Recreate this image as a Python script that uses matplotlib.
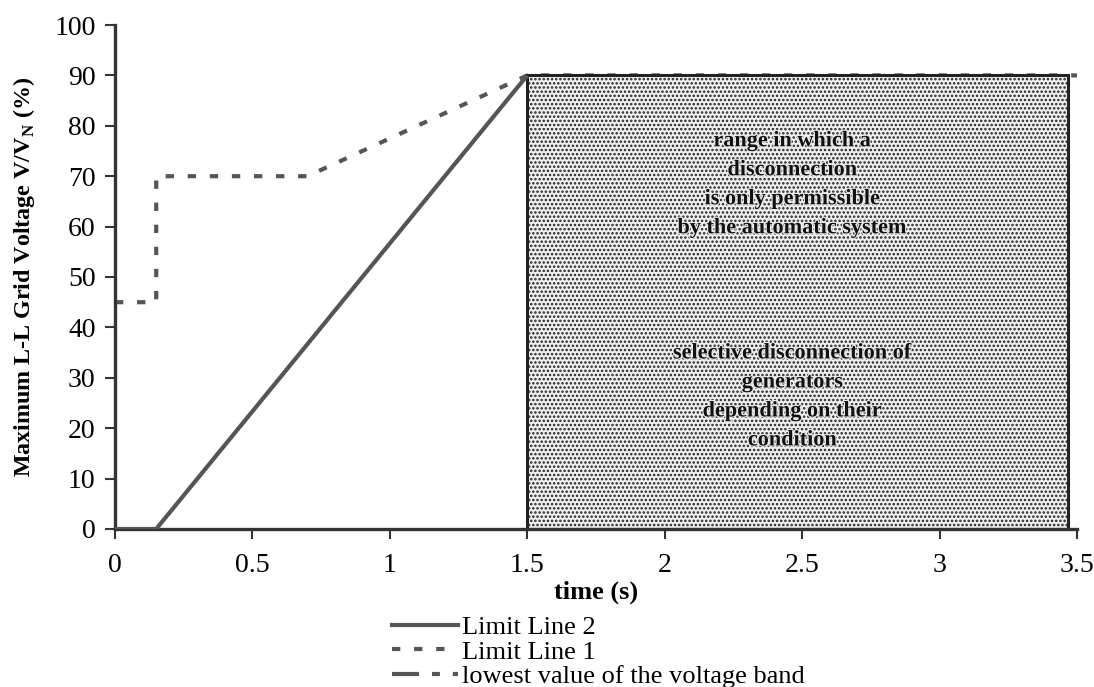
import matplotlib
matplotlib.use("Agg")
import matplotlib.pyplot as plt
from matplotlib.patches import Rectangle
from matplotlib.lines import Line2D
import matplotlib.patheffects as pe

plt.rcParams['font.family'] = ['Liberation Serif', 'DejaVu Serif']
plt.rcParams['hatch.color'] = '#8a8a8a'
plt.rcParams['hatch.linewidth'] = 1.2

# Data
line2_t = [0, 0.15, 1.5]
line2_v = [0, 0, 90]
line1_t = [0, 0.15, 0.15, 0.7, 1.5, 3.5]
line1_v = [45, 45, 70, 70, 90, 90]
region_t = [1.5, 3.467]
region_v = [0, 90]
xticks = [0, 0.5, 1, 1.5, 2, 2.5, 3, 3.5]
xticklabels = ['0', '0.5', '1', '1.5', '2', '2.5', '3', '3.5']
yticks = list(range(0, 101, 10))

fig = plt.figure(figsize=(10.94, 6.87), dpi=100)
ax = fig.add_axes([0.1051, 0.2300, 0.8793, 0.7336])

col = '#555555'
dash1 = (0, (2, 3.3))
dash3 = (0, (6.5, 3.1, 1.9, 3.1))

rect = Rectangle((region_t[0], region_v[0]), region_t[1] - region_t[0], region_v[1] - region_v[0],
                 facecolor='#f0f0f0', edgecolor='#222222', hatch='....', linewidth=2.2, zorder=1)
ax.add_patch(rect)

ax.plot(line1_t, line1_v, color=col, lw=3, linestyle=dash1, zorder=0.9)
ax.plot(line2_t, line2_v, color=col, lw=3, solid_capstyle='butt', zorder=3)

halo = [pe.withStroke(linewidth=1.6, foreground='#e8e8e8')]
ax.text(2.465, 68.3, 'range in which a\ndisconnection\nis only permissible\nby the automatic system',
        ha='center', va='center', fontsize=16, fontweight='bold', linespacing=1.6, zorder=4,
        color='#111111', path_effects=halo)
ax.text(2.465, 26.2, 'selective disconnection of\ngenerators\ndepending on their\ncondition',
        ha='center', va='center', fontsize=16, fontweight='bold', linespacing=1.6, zorder=4,
        color='#111111', path_effects=halo)

ax.set_xlim(0, 3.5)
ax.set_ylim(0, 100)
ax.set_xticks(xticks)
ax.set_xticklabels(xticklabels)
ax.set_yticks(yticks)
ax.tick_params(axis='both', labelsize=20, direction='out', length=7, width=1.5, color='#333333')
ax.tick_params(axis='x', pad=10)
ax.tick_params(axis='y', pad=7)
for s in ['top', 'right']:
    ax.spines[s].set_visible(False)
for s in ['left', 'bottom']:
    ax.spines[s].set_linewidth(2.4)
    ax.spines[s].set_color('#333333')

ax.set_xlabel('time (s)', fontsize=19, fontweight='bold', labelpad=2)
ax.set_ylabel(r'Maximum L-L Grid Voltage V/V$_\mathregular{N}$ (%)', fontsize=17.3, fontweight='bold', labelpad=12)

handles = [
    Line2D([], [], color=col, lw=3),
    Line2D([], [], color=col, lw=3, linestyle=dash1),
    Line2D([], [], color=col, lw=3, linestyle=dash3),
]
labels = ['Limit Line 2', 'Limit Line 1', 'lowest value of the voltage band']
fig.legend(handles, labels, loc='upper left', bbox_to_anchor=(0.3583, 0.1034), frameon=False,
           fontsize=19, handlelength=2.5, handletextpad=0.15, labelspacing=0.03, borderpad=0,
           borderaxespad=0)

fig.savefig('out.png', dpi=100)
